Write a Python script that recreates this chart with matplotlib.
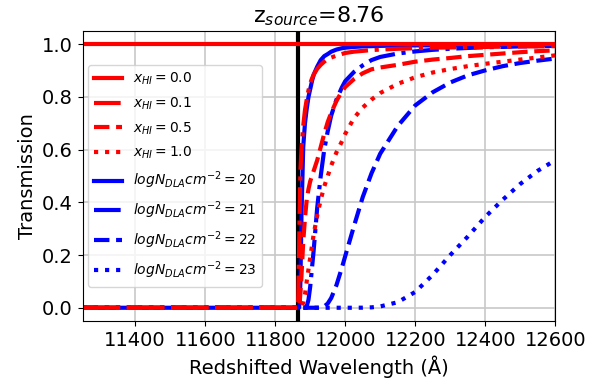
import matplotlib
matplotlib.use('Agg')
import matplotlib.pyplot as plt

z_source = 8.76
lya_obs = 1215.67 * (1 + z_source)

# observed wavelength grid (Angstrom)
wave = [11250, 11865, 11866, 11868, 11870, 11872, 11875, 11880, 11885, 11890,
        11895, 11900, 11905, 11910, 11920, 11930, 11940, 11950, 11960, 11975,
        11990, 12000, 12025, 12050, 12075, 12100, 12150, 12200, 12250, 12300,
        12350, 12400, 12450, 12500, 12550, 12600]

# IGM damping wing, x_HI
xhi_00 = [1.0] * len(wave)
xhi_01 = [0.0, 0.0, 0.05, 0.2, 0.38, 0.52, 0.6, 0.69, 0.75, 0.79,
          0.825, 0.851, 0.87, 0.885, 0.907, 0.922, 0.934, 0.944, 0.95, 0.957,
          0.963, 0.967, 0.972, 0.975, 0.978, 0.98, 0.983, 0.985, 0.987, 0.988,
          0.989, 0.99, 0.991, 0.992, 0.992, 0.993]
xhi_05 = [0.0, 0.0, 0.0, 0.0, 0.02, 0.06, 0.12, 0.25, 0.34, 0.41,
          0.45, 0.48, 0.5, 0.52, 0.56, 0.61, 0.66, 0.705, 0.74, 0.785,
          0.82, 0.838, 0.868, 0.89, 0.905, 0.912, 0.922, 0.934, 0.942, 0.948,
          0.955, 0.96, 0.965, 0.97, 0.974, 0.977]
xhi_10 = [0.0, 0.0, 0.0, 0.0, 0.0, 0.0, 0.004, 0.02, 0.05, 0.1,
          0.145, 0.19, 0.235, 0.28, 0.35, 0.41, 0.46, 0.5, 0.54, 0.59,
          0.63, 0.66, 0.72, 0.76, 0.79, 0.815, 0.85, 0.875, 0.893, 0.906,
          0.917, 0.926, 0.934, 0.942, 0.95, 0.958]

# DLA absorption, log N
dla_20 = [0.0, 0.0, 0.0, 0.0, 0.02, 0.1, 0.35, 0.61, 0.7, 0.755,
          0.8, 0.83, 0.86, 0.885, 0.915, 0.94, 0.955, 0.963, 0.972, 0.98,
          0.985, 0.987, 0.99, 0.992, 0.993, 0.994, 0.995, 0.996, 0.996, 0.997,
          0.997, 0.997, 0.998, 0.998, 0.998, 0.998]
dla_21 = [0.0, 0.0, 0.0, 0.0, 0.0, 0.0, 0.0, 0.0, 0.0, 0.005,
          0.03, 0.08, 0.15, 0.22, 0.38, 0.5, 0.6, 0.67, 0.73, 0.79,
          0.835, 0.86, 0.895, 0.92, 0.94, 0.952, 0.965, 0.973, 0.979, 0.983,
          0.986, 0.989, 0.99, 0.992, 0.993, 0.994]
dla_22 = [0.0, 0.0, 0.0, 0.0, 0.0, 0.0, 0.0, 0.0, 0.0, 0.0,
          0.0, 0.0, 0.0, 0.0, 0.0, 0.001, 0.005, 0.016, 0.037, 0.086,
          0.15, 0.196, 0.31, 0.42, 0.51, 0.585, 0.69, 0.768, 0.818, 0.855,
          0.882, 0.901, 0.917, 0.929, 0.938, 0.946]
dla_23 = [0.0, 0.0, 0.0, 0.0, 0.0, 0.0, 0.0, 0.0, 0.0, 0.0,
          0.0, 0.0, 0.0, 0.0, 0.0, 0.0, 0.0, 0.0, 0.0, 0.0,
          0.0, 0.0, 0.0, 0.0003, 0.0015, 0.005, 0.021, 0.06, 0.125, 0.2,
          0.27, 0.345, 0.41, 0.47, 0.52, 0.56]

fig, ax = plt.subplots(figsize=(5.99, 3.89), dpi=100)
fig.subplots_adjust(left=0.138, right=0.927, top=0.92, bottom=0.175)

ax.axvline(lya_obs, color='black', lw=3, zorder=1.8)

lw = 3
ax.plot(wave, xhi_00, color='red', ls='-', lw=lw, label=r'$x_{HI}=0.0$')
ax.plot(wave, xhi_01, color='red', ls='-.', lw=lw, label=r'$x_{HI}=0.1$')
ax.plot(wave, xhi_05, color='red', ls='--', lw=lw, label=r'$x_{HI}=0.5$')
ax.plot(wave, xhi_10, color='red', ls=':', lw=lw, label=r'$x_{HI}=1.0$')
ax.plot(wave, dla_20, color='blue', ls='-', lw=lw, zorder=1.9, label=r'$logN_{DLA}cm^{-2}=20$')
ax.plot(wave, dla_21, color='blue', ls='-.', lw=lw, zorder=1.9, label=r'$logN_{DLA}cm^{-2}=21$')
ax.plot(wave, dla_22, color='blue', ls='--', lw=lw, zorder=1.9, label=r'$logN_{DLA}cm^{-2}=22$')
ax.plot(wave, dla_23, color='blue', ls=':', lw=lw, zorder=1.9, label=r'$logN_{DLA}cm^{-2}=23$')

ax.set_xlim(11250, 12600)
ax.set_ylim(-0.05, 1.05)
ax.set_xticks([11400, 11600, 11800, 12000, 12200, 12400, 12600])
ax.grid(True, color='#c8c8c8', lw=1.2)
ax.tick_params(labelsize=14)
ax.set_xlabel('Redshifted Wavelength (Å)', fontsize=14)
ax.set_ylabel('Transmission', fontsize=14)
ax.set_title(r'z$_{source}$=8.76', fontsize=16)
ax.legend(loc='center left', fontsize=10, labelspacing=0.6, handlelength=2.0,
          borderaxespad=0.4)

fig.savefig('out.png', dpi=100)
